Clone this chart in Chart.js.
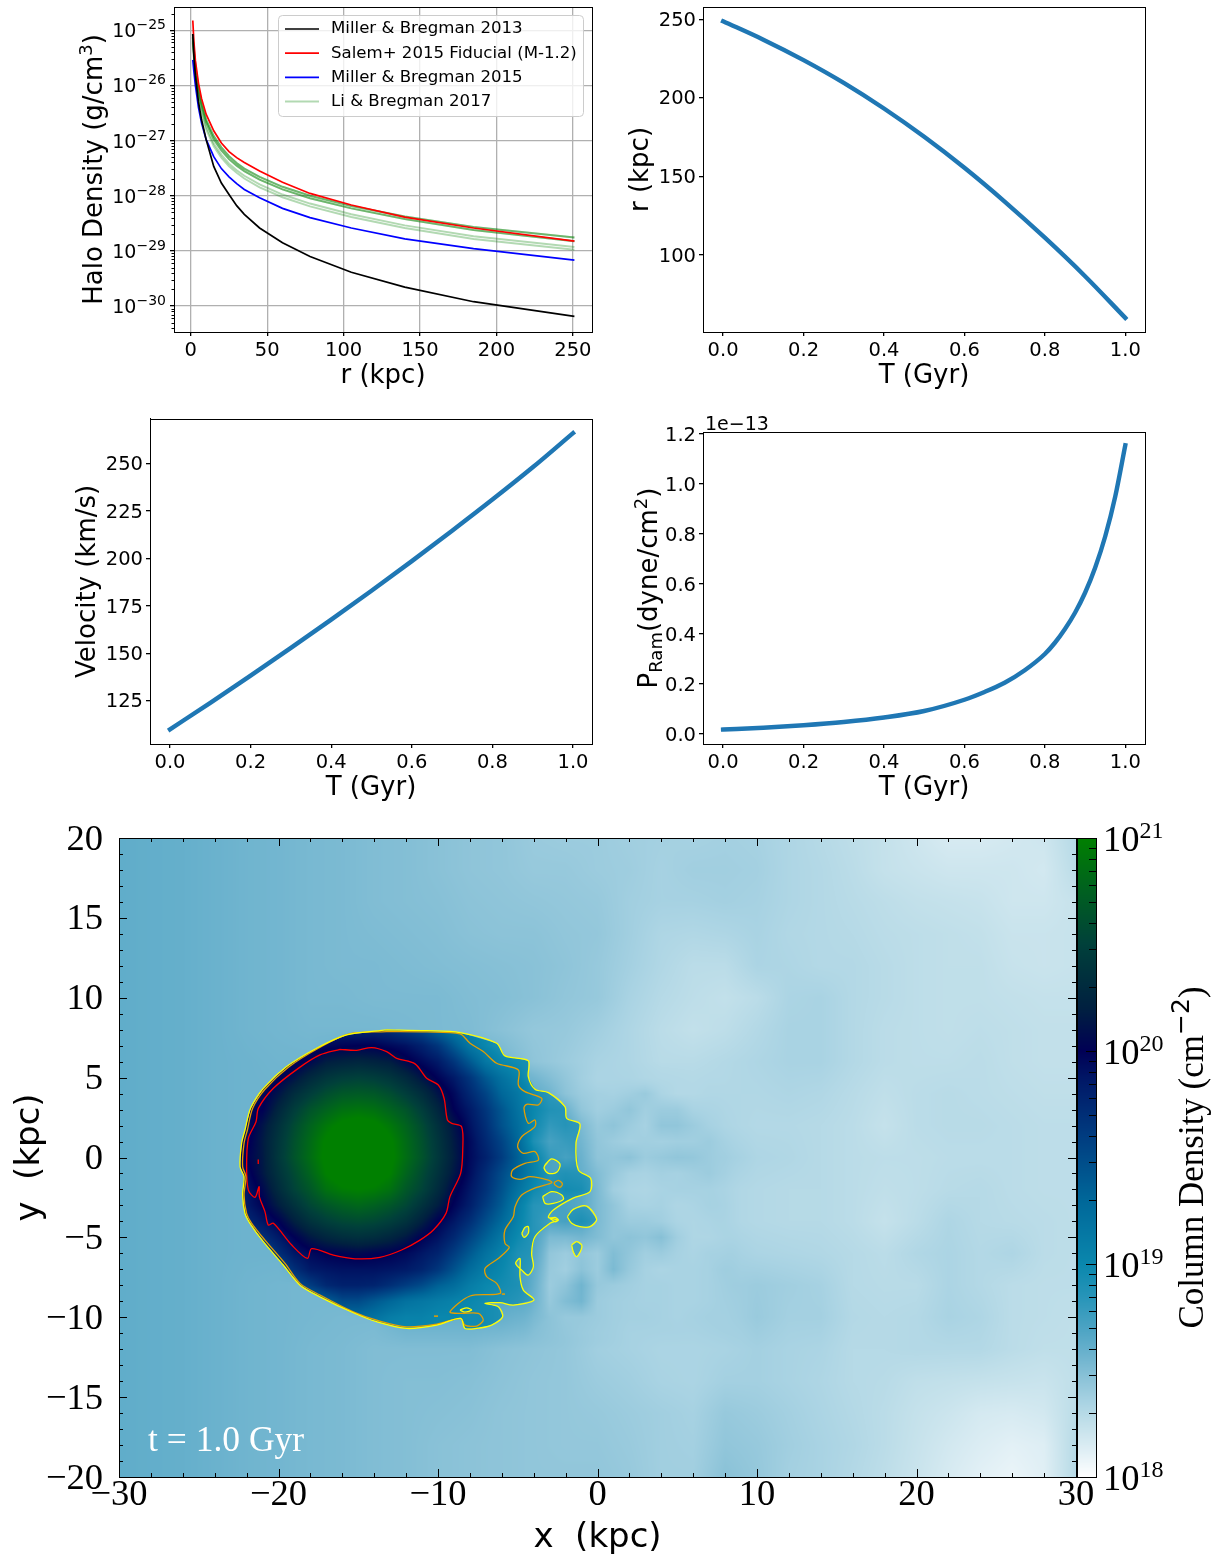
<!DOCTYPE html>
<html>
<head>
<meta charset="utf-8">
<title>Halo profile and column density</title>
<script src="https://cdn.jsdelivr.net/npm/chart.js@4/dist/chart.umd.min.js"></script>
<style>
  html, body { margin: 0; padding: 0; background: #fff; }
  #page { position: relative; width: 1224px; height: 1558px; overflow: hidden; }
  canvas { position: absolute; }
</style>
</head>
<body>
<div id="page"></div>
<script>
// ---- halo density panel
const haloR = [1.3, 2, 3, 5, 7, 10, 15, 20, 25, 30, 35, 45, 60, 78, 105, 140, 185, 251];
const millerBregman2013 = [8.5e-26, 3.5e-26, 1.5e-26, 5e-27, 2.4e-27, 1.05e-27, 3.4e-28, 1.7e-28, 1.05e-28, 6.6e-29, 4.6e-29, 2.6e-29, 1.4e-29, 7.9e-30, 4.1e-30, 2.2e-30, 1.2e-30, 6.5e-31];
const salem2015 = [1.5e-25, 6.3e-26, 2.8e-26, 1.1e-26, 5.8e-27, 3e-27, 1.5e-27, 9e-28, 6.3e-28, 4.9e-28, 4e-28, 2.8e-28, 1.75e-28, 1.1e-28, 6.8e-29, 4.1e-29, 2.6e-29, 1.5e-29];
const millerBregman2015 = [2.9e-26, 1.8e-26, 1e-26, 4e-27, 2.1e-27, 1.05e-27, 5.1e-28, 3.1e-28, 2.2e-28, 1.65e-28, 1.3e-28, 9.2e-29, 5.9e-29, 4e-29, 2.6e-29, 1.65e-29, 1.1e-29, 6.8e-30];
const liBregmanA = [8.5e-26, 4.5e-26, 2.3e-26, 9e-27, 5e-27, 2.4e-27, 1.2e-27, 7.5e-28, 5.2e-28, 3.9e-28, 3.1e-28, 2.2e-28, 1.45e-28, 1e-28, 6.5e-29, 4.2e-29, 2.7e-29, 1.75e-29];
const liBregmanB = [7.5e-26, 4e-26, 2e-26, 8e-27, 4.4e-27, 2.15e-27, 1.05e-27, 6.6e-28, 4.6e-28, 3.5e-28, 2.8e-28, 1.95e-28, 1.3e-28, 9e-29, 5.9e-29, 3.8e-29, 2.4e-29, 1.5e-29];
const liBregmanC = [6.5e-26, 3.4e-26, 1.7e-26, 6.8e-27, 3.7e-27, 1.8e-27, 8.8e-28, 5.5e-28, 3.8e-28, 2.9e-28, 2.3e-28, 1.6e-28, 1.05e-28, 7.2e-29, 4.6e-29, 2.9e-29, 1.85e-29, 1.18e-29];
const liBregmanD = [6e-26, 3.1e-26, 1.55e-26, 6.2e-27, 3.3e-27, 1.6e-27, 7.9e-28, 4.9e-28, 3.4e-28, 2.6e-28, 2.05e-28, 1.42e-28, 9.4e-29, 6.4e-29, 4.1e-29, 2.6e-29, 1.65e-29, 1.05e-29];
const legendLabels = ['Miller & Bregman 2013', 'Salem+ 2015 Fiducial (M-1.2)', 'Miller & Bregman 2015', 'Li & Bregman 2017'];
const haloXTicks = [0, 50, 100, 150, 200, 250];
const haloYExponents = [-25, -26, -27, -28, -29, -30];

// ---- orbit panels
const orbitT = [0, 0.1, 0.2, 0.3, 0.4, 0.5, 0.6, 0.7, 0.8, 0.9, 1];
const orbitRadius = [248.7, 237, 224, 209.5, 193.2, 175.2, 155.5, 134, 111, 86.5, 60];
const orbitVelocity = [110, 124, 138.3, 152.9, 167.8, 183, 198.6, 214.6, 231, 248, 266];
const ramT = [0, 0.1, 0.2, 0.3, 0.4, 0.5, 0.6, 0.65, 0.7, 0.75, 0.8, 0.825, 0.85, 0.875, 0.9, 0.925, 0.95, 0.975, 1];
const ramPressure = [0.018, 0.025, 0.035, 0.048, 0.066, 0.092, 0.137, 0.168, 0.205, 0.255, 0.32, 0.365, 0.42, 0.485, 0.565, 0.665, 0.79, 0.95, 1.155];
const timeTicks = [0, 0.2, 0.4, 0.6, 0.8, 1];
const radiusTicks = [100, 150, 200, 250];
const velocityTicks = [125, 150, 175, 200, 225, 250];
const pressureTicks = [0, 0.2, 0.4, 0.6, 0.8, 1, 1.2];

// ---- column density map, log10(N). wind field on a 2 kpc grid
const windX = [-30, -28, -26, -24, -22, -20, -18, -16, -14, -12, -10, -8, -6, -4, -2, 0, 2, 4, 6, 8, 10, 12, 14, 16, 18, 20, 22, 24, 26, 28, 30];
const windY = [20, 18, 16, 14, 12, 10, 8, 6, 4, 2, 0, -2, -4, -6, -8, -10, -12, -14, -16, -18, -20];
const windRows = [
  [18.62,18.61,18.60,18.58,18.56,18.55,18.53,18.52,18.50,18.49,18.47,18.45,18.44,18.41,18.40,18.40,18.38,18.37,18.36,18.37,18.36,18.33,18.30,18.27,18.24,18.20,18.16,18.16,18.18,18.20,18.30],
  [18.62,18.61,18.60,18.58,18.56,18.55,18.53,18.52,18.50,18.49,18.47,18.45,18.44,18.42,18.42,18.40,18.39,18.36,18.38,18.38,18.37,18.33,18.31,18.28,18.24,18.22,18.20,18.20,18.20,18.18,18.28],
  [18.62,18.61,18.60,18.58,18.56,18.55,18.53,18.52,18.50,18.49,18.48,18.46,18.45,18.44,18.43,18.42,18.38,18.36,18.36,18.37,18.36,18.33,18.31,18.29,18.27,18.25,18.24,18.23,18.20,18.20,18.23],
  [18.62,18.61,18.60,18.58,18.56,18.55,18.53,18.52,18.51,18.50,18.49,18.47,18.46,18.46,18.44,18.43,18.38,18.33,18.32,18.33,18.35,18.32,18.31,18.30,18.28,18.27,18.26,18.25,18.22,18.22,18.23],
  [18.62,18.61,18.60,18.58,18.56,18.55,18.53,18.52,18.52,18.51,18.50,18.49,18.48,18.47,18.45,18.42,18.37,18.32,18.28,18.28,18.34,18.33,18.31,18.31,18.29,18.27,18.26,18.26,18.23,18.22,18.23],
  [18.62,18.61,18.60,18.58,18.56,18.55,18.53,18.53,18.52,18.52,18.52,18.50,18.49,18.47,18.44,18.42,18.35,18.30,18.27,18.25,18.28,18.34,18.35,18.31,18.29,18.27,18.26,18.26,18.25,18.24,18.24],
  [18.62,18.61,18.60,18.58,18.56,18.55,18.54,18.54,18.54,18.53,18.52,18.51,18.47,18.43,18.42,18.38,18.33,18.28,18.25,18.27,18.31,18.35,18.35,18.31,18.28,18.27,18.26,18.27,18.26,18.25,18.25],
  [18.62,18.61,18.60,18.58,18.57,18.56,18.56,18.60,18.60,18.60,18.60,18.60,18.55,18.45,18.40,18.35,18.33,18.29,18.29,18.31,18.33,18.35,18.35,18.31,18.28,18.27,18.27,18.28,18.26,18.25,18.25],
  [18.62,18.61,18.60,18.58,18.57,18.57,18.60,18.70,18.70,18.70,18.70,18.70,18.70,18.60,18.50,18.33,18.36,18.36,18.33,18.32,18.32,18.33,18.32,18.29,18.26,18.28,18.29,18.28,18.27,18.26,18.26],
  [18.62,18.61,18.60,18.58,18.57,18.57,18.70,18.70,18.70,18.70,18.70,18.70,18.70,18.70,18.65,18.50,18.40,18.38,18.40,18.33,18.31,18.31,18.30,18.28,18.24,18.28,18.29,18.29,18.28,18.27,18.27],
  [18.62,18.61,18.60,18.58,18.57,18.57,18.70,18.70,18.70,18.70,18.70,18.70,18.70,18.70,18.65,18.48,18.35,18.38,18.36,18.38,18.33,18.32,18.30,18.28,18.27,18.27,18.28,18.28,18.28,18.27,18.27],
  [18.62,18.61,18.60,18.58,18.57,18.57,18.70,18.70,18.70,18.70,18.70,18.70,18.70,18.70,18.65,18.50,18.38,18.38,18.33,18.33,18.31,18.30,18.30,18.28,18.26,18.27,18.29,18.30,18.28,18.27,18.27],
  [18.62,18.61,18.60,18.58,18.57,18.57,18.70,18.70,18.70,18.70,18.70,18.70,18.70,18.70,18.65,18.58,18.42,18.45,18.35,18.33,18.31,18.30,18.30,18.28,18.24,18.28,18.33,18.30,18.29,18.28,18.27],
  [18.62,18.61,18.60,18.58,18.57,18.57,18.70,18.70,18.70,18.70,18.70,18.70,18.70,18.70,18.65,18.45,18.50,18.40,18.34,18.37,18.34,18.33,18.32,18.30,18.28,18.32,18.34,18.31,18.33,18.28,18.27],
  [18.62,18.61,18.60,18.58,18.56,18.55,18.54,18.56,18.70,18.70,18.70,18.70,18.70,18.70,18.60,18.42,18.42,18.36,18.34,18.38,18.40,18.38,18.36,18.30,18.29,18.29,18.34,18.31,18.28,18.27,18.27],
  [18.62,18.61,18.60,18.58,18.56,18.55,18.54,18.53,18.53,18.60,18.60,18.60,18.60,18.55,18.50,18.44,18.36,18.36,18.35,18.36,18.41,18.37,18.37,18.31,18.30,18.31,18.35,18.33,18.28,18.27,18.26],
  [18.62,18.61,18.60,18.58,18.56,18.55,18.53,18.52,18.50,18.50,18.50,18.50,18.47,18.45,18.43,18.38,18.36,18.34,18.34,18.35,18.37,18.35,18.34,18.30,18.30,18.31,18.31,18.31,18.28,18.26,18.26],
  [18.62,18.61,18.60,18.58,18.56,18.55,18.53,18.52,18.50,18.49,18.49,18.48,18.46,18.44,18.43,18.40,18.38,18.35,18.34,18.37,18.37,18.35,18.33,18.30,18.29,18.26,18.25,18.24,18.23,18.22,18.26],
  [18.62,18.61,18.60,18.58,18.56,18.55,18.53,18.52,18.50,18.49,18.48,18.47,18.45,18.44,18.43,18.42,18.40,18.38,18.36,18.42,18.40,18.37,18.34,18.31,18.28,18.24,18.21,18.17,18.16,18.18,18.28],
  [18.62,18.61,18.60,18.58,18.56,18.55,18.53,18.52,18.50,18.49,18.47,18.46,18.45,18.44,18.43,18.43,18.41,18.38,18.37,18.44,18.42,18.38,18.35,18.32,18.28,18.23,18.18,18.14,18.11,18.13,18.30],
  [18.62,18.61,18.60,18.58,18.56,18.55,18.53,18.52,18.50,18.49,18.47,18.46,18.45,18.44,18.44,18.44,18.42,18.38,18.38,18.47,18.43,18.37,18.35,18.31,18.27,18.22,18.16,18.11,18.08,18.12,18.30]
];

// wake behind the cloud, 1 kpc grid with the streaks in it
const wakeX = [-5, -4, -3, -2, -1, 0, 1, 2, 3, 4, 5, 6, 7, 8, 9];
const wakeY = [6, 5, 4, 3, 2, 1, 0, -1, -2, -3, -4, -5, -6, -7, -8, -9, -10, -11, -12];
const wakeRows = [
  [18.55,18.50,18.45,18.38,18.36,18.35,18.33,18.32,18.30,18.29,18.29,18.29,18.30,18.31,18.32],
  [18.65,18.58,18.50,18.42,18.36,18.34,18.34,18.33,18.31,18.30,18.30,18.30,18.31,18.31,18.32],
  [18.70,18.62,18.56,18.46,18.40,18.37,18.36,18.38,18.41,18.34,18.31,18.31,18.32,18.32,18.32],
  [18.75,18.70,18.65,18.58,18.44,18.38,18.40,18.44,18.38,18.40,18.40,18.35,18.34,18.33,18.32],
  [18.80,18.75,18.70,18.65,18.52,18.42,18.45,18.40,18.36,18.44,18.44,18.40,18.36,18.34,18.33],
  [18.80,18.75,18.70,18.62,18.55,18.44,18.40,18.37,18.38,18.37,18.38,18.38,18.40,18.37,18.34],
  [18.80,18.75,18.70,18.65,18.58,18.45,18.44,18.46,18.40,18.42,18.44,18.43,18.40,18.38,18.34],
  [18.80,18.75,18.70,18.68,18.60,18.50,18.42,18.36,18.35,18.37,18.36,18.38,18.40,18.38,18.34],
  [18.80,18.75,18.72,18.70,18.65,18.52,18.38,18.34,18.33,18.35,18.36,18.36,18.36,18.36,18.34],
  [18.80,18.75,18.75,18.70,18.65,18.52,18.44,18.36,18.35,18.36,18.33,18.34,18.36,18.37,18.35],
  [18.75,18.70,18.68,18.72,18.68,18.52,18.44,18.40,18.40,18.38,18.34,18.33,18.34,18.36,18.36],
  [18.72,18.68,18.52,18.52,18.55,18.50,18.44,18.46,18.44,18.48,18.38,18.33,18.33,18.34,18.36],
  [18.75,18.62,18.44,18.40,18.44,18.40,18.50,18.44,18.38,18.40,18.36,18.34,18.36,18.36,18.40],
  [18.72,18.55,18.42,18.38,18.46,18.40,18.52,18.42,18.36,18.34,18.35,18.35,18.36,18.40,18.42],
  [18.70,18.50,18.40,18.45,18.56,18.42,18.40,18.38,18.36,18.36,18.35,18.35,18.36,18.38,18.42],
  [18.70,18.52,18.42,18.50,18.55,18.40,18.38,18.37,18.36,18.36,18.35,18.35,18.36,18.38,18.40],
  [18.62,18.50,18.46,18.42,18.42,18.40,18.38,18.37,18.37,18.36,18.35,18.36,18.37,18.38,18.40],
  [18.55,18.47,18.43,18.40,18.38,18.37,18.37,18.36,18.36,18.36,18.36,18.36,18.37,18.38,18.39],
  [18.47,18.44,18.42,18.40,18.38,18.38,18.37,18.36,18.35,18.35,18.35,18.35,18.36,18.37,18.38]
];

// gas cloud itself on a 1 kpc grid, only shown inside the outer yellow contour
const cloudX = [-23, -22, -21, -20, -19, -18, -17, -16, -15, -14, -13, -12, -11, -10, -9, -8, -7, -6, -5, -4, -3, -2, -1, 0];
const cloudY = [8, 7, 6, 5, 4, 3, 2, 1, 0, -1, -2, -3, -4, -5, -6, -7, -8, -9, -10, -11];
const cloudRows = [
  [19.8,19.8,19.8,19.8,19.8,19.8,19.8,19.8,19.75,19.75,19.7,19.6,19.5,19.3,19.15,19.0,18.95,18.9,18.9,18.85,18.85,18.85,18.8,18.8],
  [19.85,19.85,19.85,19.85,19.85,19.9,19.95,19.98,20.0,20.0,19.95,19.9,19.8,19.65,19.4,19.15,19.0,18.9,18.9,18.85,18.85,18.85,18.8,18.8],
  [19.85,19.85,19.85,19.85,19.95,20.05,20.18,20.22,20.25,20.22,20.18,20.05,19.95,19.85,19.65,19.4,19.15,19.0,18.95,18.9,18.85,18.8,18.75,18.7],
  [19.9,19.9,19.85,19.98,20.12,20.28,20.4,20.47,20.5,20.47,20.4,20.28,20.12,19.98,19.85,19.65,19.4,19.2,19.05,18.85,18.8,18.75,18.75,18.7],
  [19.9,19.9,19.95,20.12,20.32,20.47,20.6,20.68,20.7,20.68,20.6,20.47,20.32,20.12,19.95,19.75,19.55,19.3,19.15,18.95,18.82,18.78,18.72,18.7],
  [19.9,19.95,20.0,20.25,20.47,20.65,20.77,20.87,20.9,20.87,20.77,20.65,20.47,20.25,20.0,19.85,19.65,19.42,19.2,19.0,18.88,18.85,18.75,18.7],
  [19.9,19.9,20.12,20.35,20.58,20.77,20.93,21.05,21.1,21.05,20.93,20.77,20.58,20.35,20.12,19.9,19.7,19.45,19.25,18.98,18.8,18.85,18.8,18.7],
  [19.9,19.95,20.16,20.4,20.63,20.83,21.03,21.17,21.2,21.17,21.03,20.83,20.63,20.4,20.16,19.95,19.75,19.55,19.3,18.9,18.72,18.78,18.82,18.72],
  [19.9,20.0,20.15,20.42,20.65,20.85,21.05,21.2,21.25,21.2,21.05,20.85,20.65,20.42,20.18,19.95,19.8,19.6,19.35,19.05,18.8,18.72,18.78,18.72],
  [19.9,19.93,20.14,20.37,20.58,20.78,21.0,21.12,21.15,21.12,21.0,20.78,20.58,20.37,20.14,19.93,19.72,19.5,19.3,19.05,18.85,18.88,18.85,18.78],
  [19.85,19.87,20.05,20.3,20.52,20.68,20.88,20.97,21.0,20.97,20.88,20.68,20.52,20.3,20.05,19.87,19.68,19.45,19.2,18.98,18.85,18.95,18.92,18.75],
  [19.8,19.85,19.98,20.18,20.37,20.55,20.67,20.75,20.8,20.75,20.67,20.55,20.37,20.18,19.98,19.82,19.6,19.38,19.1,18.85,18.82,18.82,18.8,18.75],
  [19.7,19.75,19.87,20.0,20.2,20.37,20.48,20.55,20.58,20.55,20.48,20.37,20.2,20.0,19.87,19.7,19.48,19.28,19.05,18.85,18.75,18.85,18.9,18.8],
  [19.6,19.65,19.7,19.85,20.0,20.15,20.25,20.32,20.35,20.32,20.25,20.15,20.0,19.9,19.75,19.55,19.35,19.15,18.98,18.85,18.8,18.75,18.75,18.7],
  [19.5,19.5,19.5,19.7,19.87,19.95,20.0,20.02,20.05,20.02,20.0,19.95,19.87,19.78,19.6,19.4,19.2,19.05,18.9,18.85,18.75,18.7,18.7,18.7],
  [19.4,19.4,19.4,19.5,19.7,19.85,19.88,19.9,19.9,19.9,19.88,19.85,19.78,19.65,19.45,19.25,19.1,19.0,18.88,18.8,18.7,18.7,18.7,18.7],
  [19.3,19.3,19.3,19.3,19.45,19.6,19.75,19.8,19.8,19.78,19.7,19.6,19.5,19.35,19.25,19.1,19.0,18.95,18.9,18.82,18.75,18.7,18.7,18.7],
  [19.2,19.2,19.2,19.2,19.2,19.2,19.35,19.5,19.5,19.4,19.3,19.2,19.15,19.1,19.05,19.0,18.95,18.9,18.85,18.78,18.7,18.7,18.7,18.7],
  [19.1,19.1,19.1,19.1,19.1,19.1,19.15,19.25,19.25,19.2,19.1,19.05,19.05,19.0,19.0,18.95,18.95,18.9,18.85,18.8,18.75,18.7,18.7,18.7],
  [19.0,19.0,19.0,19.0,19.0,19.0,19.0,19.0,19.0,19.0,19.0,19.0,19.0,19.0,19.0,18.95,18.95,18.9,18.85,18.8,18.75,18.7,18.7,18.7]
];

// colour table of the colorbar
const cmapLevels = [18, 18.12, 18.25, 18.35, 18.46, 18.57, 18.7, 18.85, 19, 19.3, 19.6, 19.85, 20, 20.2, 20.5, 20.75, 21];
const cmapColors = ['#ffffff', '#e0eff5', '#c2e0ea', '#a9d3e3', '#8cc3d8', '#6db3ce', '#4ba3c3', '#2694b8', '#0a87ad', '#006799', '#003c80', '#001a68', '#000055', '#002040', '#00403a', '#006020', '#008000'];

// contours in kpc
const yellowX = [-13.22,-10.71,-8.62,-6.32,-5.80,-4.34,-4.34,-3.92,-3.08,-2.04,-1.93,-1.10,-1.35,-1.20,-0.43,-0.47,-1.56,-2.77,-3.08,-2.46,-2.98,-3.92,-4.13,-4.02,-4.34,-4.75,-5.13,-4.86,-4.86,-4.65,-3.98,-5.28,-6.11,-7.05,-6.22,-5.95,-6.64,-7.58,-8.31,-8.58,-10.08,-11.96,-13.85,-15.31,-17.40,-18.65,-19.70,-20.95,-21.79,-22.10,-22.25,-22.16,-22.41,-22.31,-22.10,-21.75,-20.95,-19.49,-17.61,-15.73,-13.22];
const yellowY = [7.99,7.94,7.82,7.15,6.36,6.06,5.06,4.27,4.06,3.18,2.45,2.10,0.89,-0.78,-1.30,-2.14,-2.56,-3.29,-3.75,-3.91,-4.12,-4.96,-6.00,-6.84,-7.36,-7.05,-6.63,-6.32,-7.46,-8.30,-8.92,-9.24,-9.09,-9.13,-9.34,-9.97,-10.49,-10.70,-10.70,-10.07,-10.49,-10.70,-10.28,-9.72,-8.72,-7.99,-6.73,-5.27,-4.12,-3.50,-2.35,-1.20,-0.57,0.89,1.72,3.08,4.33,5.69,6.84,7.67,7.99];
const orangeX = [-13.22,-10.71,-8.62,-7.99,-7.16,-6.32,-4.96,-4.96,-4.55,-3.50,-3.71,-4.44,-4.61,-4.34,-3.92,-3.92,-4.75,-5.01,-4.65,-3.92,-3.71,-4.55,-5.32,-5.38,-4.86,-4.23,-3.08,-2.87,-3.81,-4.75,-5.17,-5.28,-5.80,-5.80,-5.53,-6.22,-7.05,-6.95,-6.32,-6.11,-7.99,-9.25,-8.62,-7.47,-7.16,-7.58,-8.31,-8.58,-10.08,-11.96,-13.85,-15.31,-17.40,-18.65,-19.59,-20.85,-21.68,-22.0,-22.16,-22.04,-22.25,-22.16,-21.95,-21.62,-20.85,-19.38,-17.50,-15.62,-13.22];
const orangeY = [7.88,7.86,7.74,7.15,6.63,5.90,5.48,4.54,4.12,3.71,3.29,3.33,3.08,2.14,2.35,1.93,1.30,0.68,0.26,0.37,-0.16,-0.37,-0.78,-1.20,-1.37,-1.20,-1.41,-1.58,-1.87,-2.35,-3.08,-3.71,-4.54,-5.38,-5.63,-6.32,-6.94,-7.46,-7.88,-8.51,-8.67,-9.66,-9.76,-9.76,-10.18,-10.55,-10.49,-10.07,-10.43,-10.60,-10.18,-9.66,-8.61,-7.88,-6.63,-5.17,-4.12,-3.50,-2.35,-1.20,-0.57,0.89,1.72,3.08,4.27,5.65,6.84,7.73,7.88];
const redX = [-16.14,-15.10,-14.16,-13.22,-12.59,-11.44,-10.71,-9.98,-9.62,-9.41,-9.14,-8.52,-8.45,-8.58,-9.25,-9.50,-10.29,-11.13,-12.28,-13.64,-15.20,-16.56,-17.92,-18.19,-19.17,-20.32,-20.64,-20.85,-21.20,-21.22,-21.47,-21.89,-22.0,-21.89,-21.41,-21.26,-20.32,-18.76,-17.40,-16.14];
const redY = [6.77,6.71,6.88,6.63,6.21,5.86,4.96,4.54,3.71,2.35,2.14,1.93,0.47,-0.99,-2.45,-3.50,-4.54,-5.17,-5.79,-6.25,-6.34,-6.11,-5.71,-6.32,-5.48,-4.12,-4.23,-3.39,-2.45,-1.83,-2.49,-2.04,-0.57,1.20,2.24,3.08,4.33,5.58,6.42,6.77];
const redSpeckX = [-21.27, -21.27];
const redSpeckY = [-0.12, -0.40];
const orangeIslandX = [-2.73,-2.45,-2.20,-2.35,-2.66,-2.73];
const orangeIslandY = [-1.58,-1.43,-1.66,-1.87,-1.72,-1.58];
const orangeDot1X = [-10.25,-10.0];
const orangeDot1Y = [-9.93,-9.93];
const orangeDot2X = [-6.0,-5.8];
const orangeDot2Y = [-8.55,-8.55];
const islandAX = [-3.29,-2.87,-2.35,-2.56,-3.08,-3.35,-3.29];
const islandAY = [-0.47,-0.09,-0.41,-0.93,-0.99,-0.68,-0.47];
const islandBX = [-3.44,-2.87,-2.24,-2.14,-2.77,-3.29,-3.44];
const islandBY = [-2.45,-2.14,-2.35,-2.62,-2.87,-2.87,-2.45];
const islandCX = [-1.89,-1.52,-0.68,-0.05,-0.47,-1.10,-1.62,-1.89];
const islandCY = [-3.71,-3.25,-3.04,-3.87,-4.33,-4.33,-4.12,-3.71];
const islandDX = [-4.75,-4.55,-4.34,-4.34,-4.61,-4.75];
const islandDY = [-4.75,-4.38,-4.33,-4.75,-5.0,-4.75];
const islandEX = [-1.62,-1.31,-0.99,-1.03,-1.31,-1.52,-1.62];
const islandEY = [-5.48,-5.27,-5.48,-5.79,-6.21,-5.90,-5.48];
const islandFX = [-2.98,-2.66,-2.46,-2.66,-2.98];
const islandFY = [-3.81,-3.75,-3.91,-4.02,-3.81];
const islandGX = [-8.62,-8.2,-7.89,-8.31,-8.62];
const islandGY = [-9.55,-9.41,-9.55,-9.68,-9.55];

const mapXTicks = [-30, -20, -10, 0, 10, 20, 30];
const mapYTicks = [-20, -15, -10, -5, 0, 5, 10, 15, 20];
const colorbarExponents = [18, 19, 20, 21];

// ---- helpers
const SANS = '"DejaVu Sans"';
const SERIF = '"Liberation Serif"';
const page = document.getElementById('page');

function zip(xs, ys) { return xs.map((x, i) => ({ x: x, y: ys[i] })); }

function addCanvas(left, top, width, height) {
  const c = document.createElement('canvas');
  c.width = width; c.height = height;
  c.style.left = left + 'px'; c.style.top = top + 'px';
  c.style.width = width + 'px'; c.style.height = height + 'px';
  page.appendChild(c);
  return c;
}

// text made of runs in different fonts (super/subscripts), centred on cx
function drawRuns(ctx, runs, cx, cy, rot, align) {
  ctx.save();
  ctx.translate(cx, cy);
  ctx.rotate(rot || 0);
  ctx.textAlign = 'left';
  ctx.textBaseline = 'alphabetic';
  let w = 0;
  runs.forEach(r => { ctx.font = r.font; w += ctx.measureText(r.text).width; });
  let x = align === 'right' ? -w : align === 'left' ? 0 : -w / 2;
  runs.forEach(r => {
    ctx.font = r.font;
    ctx.fillStyle = r.color || '#000';
    ctx.fillText(r.text, x, r.dy || 0);
    x += ctx.measureText(r.text).width;
  });
  ctx.restore();
}

function lerpGrid(rows, xs, ys, x, y) {
  const nx = xs.length, ny = ys.length;
  const fx = Math.min(Math.max((x - xs[0]) / (xs[1] - xs[0]), 0), nx - 1.001);
  const fy = Math.min(Math.max((y - ys[0]) / (ys[1] - ys[0]), 0), ny - 1.001);
  const i = Math.floor(fx), j = Math.floor(fy), a = fx - i, b = fy - j;
  return (rows[j][i] * (1 - a) + rows[j][i + 1] * a) * (1 - b) +
         (rows[j + 1][i] * (1 - a) + rows[j + 1][i + 1] * a) * b;
}

// wind grid, with the finer wake grid faded in over it
function windAt(x, y) {
  const v = lerpGrid(windRows, windX, windY, x, y);
  const edge = Math.min(x - wakeX[0], wakeX[wakeX.length - 1] - x, wakeY[0] - y, y - wakeY[wakeY.length - 1]);
  if (edge <= 0) return v;
  const k = Math.min(edge / 2, 1);
  return v * (1 - k) + lerpGrid(wakeRows, wakeX, wakeY, x, y) * k;
}
function cloudAt(x, y) { return lerpGrid(cloudRows, cloudX, cloudY, x, y); }

const cmapRgb = cmapColors.map(h => [parseInt(h.slice(1, 3), 16), parseInt(h.slice(3, 5), 16), parseInt(h.slice(5, 7), 16)]);
function colorFor(v) {
  if (v <= cmapLevels[0]) return cmapRgb[0];
  for (let k = 1; k < cmapLevels.length; k++) {
    if (v <= cmapLevels[k]) {
      const t = (v - cmapLevels[k - 1]) / (cmapLevels[k] - cmapLevels[k - 1]);
      const p = cmapRgb[k - 1], q = cmapRgb[k];
      return [p[0] + (q[0] - p[0]) * t, p[1] + (q[1] - p[1]) * t, p[2] + (q[2] - p[2]) * t];
    }
  }
  return cmapRgb[cmapRgb.length - 1];
}

function renderField(chart, valueAt) {
  const a = chart.chartArea, sx = chart.scales.x, sy = chart.scales.y;
  const w = Math.round(a.right - a.left), h = Math.round(a.bottom - a.top);
  const off = document.createElement('canvas');
  off.width = w; off.height = h;
  const octx = off.getContext('2d');
  const img = octx.createImageData(w, h);
  for (let j = 0; j < h; j++) {
    const yv = sy.getValueForPixel(a.top + j + 0.5);
    for (let i = 0; i < w; i++) {
      const xv = sx.getValueForPixel(a.left + i + 0.5);
      const c = colorFor(valueAt(xv, yv));
      const o = (j * w + i) * 4;
      img.data[o] = c[0]; img.data[o + 1] = c[1]; img.data[o + 2] = c[2]; img.data[o + 3] = 255;
    }
  }
  octx.putImageData(img, 0, 0);
  return off;
}

function frame(chart) {
  const a = chart.chartArea, ctx = chart.ctx;
  ctx.save();
  ctx.strokeStyle = '#000';
  ctx.lineWidth = 1;
  ctx.strokeRect(Math.round(a.left) + 0.5, Math.round(a.top) + 0.5, Math.round(a.right - a.left), Math.round(a.bottom - a.top));
  ctx.restore();
}

// panel layout: canvas rectangle and plot box, page pixels
function panel(cfg) {
  const cv = addCanvas(cfg.canvas[0], cfg.canvas[1], cfg.canvas[2], cfg.canvas[3]);
  const box = cfg.box;
  const leftW = box[0] - cfg.canvas[0];
  const bottomH = cfg.canvas[1] + cfg.canvas[3] - box[3];
  return new Chart(cv, {
    type: 'scatter',
    data: { datasets: cfg.datasets },
    options: {
      responsive: false,
      animation: false,
      devicePixelRatio: 1,
      layout: { padding: { top: box[1] - cfg.canvas[1], right: cfg.canvas[0] + cfg.canvas[2] - box[2], left: 0, bottom: 0 } },
      plugins: { legend: { display: false }, tooltip: { enabled: false } },
      scales: {
        x: Object.assign({
          type: 'linear', min: cfg.xRange[0], max: cfg.xRange[1], bounds: 'data',
          afterBuildTicks: s => { s.ticks = cfg.xTicks.map(v => ({ value: v })); },
          afterFit: s => { s.height = bottomH; },
          border: { color: '#000' },
          grid: { drawOnChartArea: !!cfg.gridLines, color: '#b0b0b0', tickColor: '#000', tickLength: 4, lineWidth: 1.3 },
          ticks: { autoSkip: false, maxRotation: 0, minRotation: 0, padding: 3, color: '#000', font: { family: SANS, size: 19.5 }, callback: cfg.xFormat }
        }, cfg.xExtra || {}),
        y: Object.assign({
          type: cfg.yType || 'linear', min: cfg.yRange[0], max: cfg.yRange[1], bounds: 'data',
          afterBuildTicks: s => { s.ticks = cfg.yTicks.map(v => ({ value: v })); },
          afterFit: s => { s.width = leftW; },
          border: { color: '#000' },
          grid: { drawOnChartArea: !!cfg.gridLines, color: '#b0b0b0', tickColor: '#000', tickLength: 4, lineWidth: 1.3 },
          ticks: { autoSkip: false, padding: 3, labelOffset: 1.5, color: '#000', font: { family: SANS, size: 19.5 }, callback: cfg.yFormat }
        }, cfg.yExtra || {})
      }
    },
    plugins: cfg.plugins || []
  });
}

function lineSet(xs, ys, color, width, extra) {
  return Object.assign({ data: zip(xs, ys), showLine: true, pointRadius: 0, borderColor: color, backgroundColor: color, borderWidth: width, tension: 0 }, extra || {});
}
function contourSet(xs, ys, color) {
  return lineSet(xs, ys, color, 1.3, { tension: 0.3 });
}
function orbitSet(xs, ys) {
  return lineSet(xs, ys, '#1f77b4', 4.4, { cubicInterpolationMode: 'monotone', borderCapStyle: 'square' });
}

const F26 = '26px ' + SANS;
const fix1 = v => v.toFixed(1);
const plain = v => String(v);

// x and y axis titles for the top four panels
function titles(xRuns, yRuns, yBase, xBase) {
  return {
    id: 'titles',
    afterDraw(chart) {
      const a = chart.chartArea, ctx = chart.ctx;
      drawRuns(ctx, xRuns, (a.left + a.right) / 2, xBase);
      drawRuns(ctx, yRuns, yBase, (a.top + a.bottom) / 2, -Math.PI / 2);
      frame(chart);
    }
  };
}

// ---- panel A: halo density. canvas starts above the page so the axis has headroom
const haloLegendColors = ['#000000', '#ff0000', '#0000ff', 'rgba(0,128,0,0.3)'];
const haloPlugin = {
  id: 'haloDecor',
  afterDraw(chart) {
    const ctx = chart.ctx, a = chart.chartArea, sy = chart.scales.y;
    ctx.save();
    ctx.strokeStyle = '#000';
    ctx.lineWidth = 1;
    for (let d = -31; d <= -25; d++) {
      for (let m = 2; m <= 9; m++) {
        const p = sy.getPixelForValue(m * Math.pow(10, d));
        if (p < a.top || p > a.bottom) continue;
        ctx.beginPath(); ctx.moveTo(a.left - 2.5, Math.round(p) + 0.5); ctx.lineTo(a.left, Math.round(p) + 0.5); ctx.stroke();
      }
    }
    ctx.restore();
    haloYExponents.forEach(e => {
      const p = sy.getPixelForValue(Math.pow(10, e));
      drawRuns(ctx, [{ text: '10', font: '19px ' + SANS }, { text: '\u2212' + Math.abs(e), font: '14px ' + SANS, dy: -8 }], a.left - 8, p + 7, 0, 'right');
    });
    // legend box
    ctx.save();
    ctx.translate(0, 30);
    ctx.beginPath();
    ctx.roundRect(278.5, 15.5, 305, 101, 4);
    ctx.fillStyle = 'rgba(255,255,255,0.8)';
    ctx.fill();
    ctx.strokeStyle = '#cccccc';
    ctx.lineWidth = 1;
    ctx.stroke();
    legendLabels.forEach((t, i) => {
      const ly = 29 + i * 24.2;
      ctx.strokeStyle = haloLegendColors[i];
      ctx.lineWidth = i === 3 ? 2 : 1.7;
      ctx.beginPath(); ctx.moveTo(285, ly); ctx.lineTo(319, ly); ctx.stroke();
      ctx.fillStyle = '#000';
      ctx.font = '16.6px ' + SANS;
      ctx.textAlign = 'left';
      ctx.textBaseline = 'middle';
      ctx.fillText(t, 331, ly);
    });
    ctx.restore();
  }
};

panel({
  canvas: [0, -30, 612, 430], box: [174, 7, 592, 332],
  xRange: [-11, 262.5], yRange: [3.39e-31, 2.63e-25], yType: 'logarithmic',
  xTicks: haloXTicks, yTicks: haloYExponents.map(e => Math.pow(10, e)), gridLines: true,
  xFormat: plain, yFormat: () => '',
  datasets: [
    lineSet(haloR, millerBregman2013, '#000000', 1.7),
    lineSet(haloR, salem2015, '#ff0000', 1.7),
    lineSet(haloR, millerBregman2015, '#0000ff', 1.7),
    lineSet(haloR, liBregmanA, 'rgba(0,128,0,0.35)', 2),
    lineSet(haloR, liBregmanA, 'rgba(0,128,0,0.35)', 2),
    lineSet(haloR, liBregmanB, 'rgba(0,128,0,0.35)', 2),
    lineSet(haloR, liBregmanB, 'rgba(0,128,0,0.35)', 2),
    lineSet(haloR, liBregmanC, 'rgba(0,128,0,0.3)', 2),
    lineSet(haloR, liBregmanD, 'rgba(0,128,0,0.3)', 2)
  ],
  plugins: [haloPlugin, titles([{ text: 'r (kpc)', font: F26 }], [{ text: 'Halo Density (g/cm', font: F26 }, { text: '3', font: '18px ' + SANS, dy: -10 }, { text: ')', font: F26 }], 102, 413)]
});

// ---- panel B: radius against time
panel({
  canvas: [612, -30, 612, 430], box: [703, 7, 1145, 332],
  xRange: [-0.05, 1.049], yRange: [51, 257.8],
  xTicks: timeTicks, yTicks: radiusTicks, xFormat: fix1, yFormat: plain,
  datasets: [orbitSet(orbitT, orbitRadius)],
  plugins: [titles([{ text: 'T (Gyr)', font: F26 }], [{ text: 'r (kpc)', font: F26 }], 36, 413)]
});

// ---- panel C: velocity against time
panel({
  canvas: [0, 404, 612, 400], box: [150, 418, 592, 744],
  xRange: [-0.0496, 1.0471], yRange: [102.3, 273.6],
  xTicks: timeTicks, yTicks: velocityTicks, xFormat: fix1, yFormat: plain,
  datasets: [orbitSet(orbitT, orbitVelocity)],
  plugins: [titles([{ text: 'T (Gyr)', font: F26 }], [{ text: 'Velocity (km/s)', font: F26 }], 95, 391)]
});

// ---- panel D: ram pressure against time
const offsetPlugin = {
  id: 'offsetText',
  afterDraw(chart) {
    drawRuns(chart.ctx, [{ text: '1e\u221213', font: '19px ' + SANS }], 93, 26, 0, 'left');
  }
};
panel({
  canvas: [612, 404, 612, 400], box: [703, 432, 1145, 744],
  xRange: [-0.05, 1.049], yRange: [-0.04, 1.208],
  xTicks: timeTicks, yTicks: pressureTicks, xFormat: fix1, yFormat: fix1,
  datasets: [orbitSet(ramT, ramPressure)],
  plugins: [offsetPlugin, titles([{ text: 'T (Gyr)', font: F26 }], [{ text: 'P', font: F26 }, { text: 'Ram', font: '18px ' + SANS, dy: 5 }, { text: '(dyne/cm', font: F26 }, { text: '2', font: '18px ' + SANS, dy: -10 }, { text: ')', font: F26 }], 45, 391)]
});

// ---- bottom map
const mapPlugin = {
  id: 'mapField',
  beforeDatasetsDraw(chart) {
    const ctx = chart.ctx, a = chart.chartArea, sx = chart.scales.x, sy = chart.scales.y;
    ctx.drawImage(renderField(chart, windAt), a.left, a.top);
    const cloud = renderField(chart, cloudAt);
    ctx.save();
    ctx.beginPath();
    [[yellowX, yellowY], [islandAX, islandAY], [islandBX, islandBY], [islandCX, islandCY], [islandDX, islandDY], [islandEX, islandEY]].forEach(p => {
      p[0].forEach((x, i) => {
        const px = sx.getPixelForValue(x), py = sy.getPixelForValue(p[1][i]);
        if (i === 0) ctx.moveTo(px, py); else ctx.lineTo(px, py);
      });
      ctx.closePath();
    });
    ctx.clip('evenodd');
    ctx.drawImage(cloud, a.left, a.top);
    ctx.restore();
  },
  afterDraw(chart) {
    const ctx = chart.ctx, a = chart.chartArea, sx = chart.scales.x, sy = chart.scales.y;
    ctx.save();
    ctx.strokeStyle = '#000';
    ctx.lineWidth = 1;
    for (let v = -30; v <= 30; v += 2) {
      const len = v % 10 === 0 ? 8 : 4, p = Math.round(sx.getPixelForValue(v)) + 0.5;
      ctx.beginPath();
      ctx.moveTo(p, a.bottom); ctx.lineTo(p, a.bottom - len);
      ctx.moveTo(p, a.top); ctx.lineTo(p, a.top + len);
      ctx.stroke();
    }
    for (let v = -20; v <= 20; v += 1) {
      const len = v % 5 === 0 ? 8 : 4, p = Math.round(sy.getPixelForValue(v)) + 0.5;
      ctx.beginPath();
      ctx.moveTo(a.left, p); ctx.lineTo(a.left + len, p);
      ctx.moveTo(a.right, p); ctx.lineTo(a.right - len, p);
      ctx.stroke();
    }
    ctx.restore();
    frame(chart);
    drawRuns(ctx, [{ text: 't = 1.0 Gyr', font: '35.5px ' + SERIF, color: '#ffffff' }], 148, 651, 0, 'left');
    drawRuns(ctx, [{ text: 'x  (kpc)', font: '34px ' + SANS }], (a.left + a.right) / 2, 747);
    drawRuns(ctx, [{ text: 'y  (kpc)', font: '34px ' + SANS }], 39, (a.top + a.bottom) / 2, -Math.PI / 2);
  }
};

const minusLabel = v => (v < 0 ? '\u2212' + Math.abs(v) : String(v));
panel({
  canvas: [0, 800, 1224, 758], box: [119, 838, 1076, 1477],
  xRange: [-30, 30], yRange: [-20, 20],
  xTicks: mapXTicks, yTicks: mapYTicks, xFormat: minusLabel, yFormat: minusLabel,
  xExtra: { grid: { display: false }, ticks: { autoSkip: false, maxRotation: 0, minRotation: 0, padding: -11, color: '#000', font: { family: SERIF, size: 36.5 }, callback: minusLabel } },
  yExtra: { grid: { display: false }, ticks: { autoSkip: false, padding: 8, labelOffset: 2, color: '#000', font: { family: SERIF, size: 36.5 }, callback: minusLabel } },
  datasets: [
    contourSet(yellowX, yellowY, '#ffff00'),
    contourSet(orangeX, orangeY, '#e69f00'),
    contourSet(redX, redY, '#ff0000'),
    contourSet(redSpeckX, redSpeckY, '#ff0000'),
    contourSet(orangeIslandX, orangeIslandY, '#e69f00'),
    lineSet(orangeDot1X, orangeDot1Y, '#e69f00', 1.5),
    lineSet(orangeDot2X, orangeDot2Y, '#e69f00', 1.5),
    contourSet(islandAX, islandAY, '#ffff00'),
    contourSet(islandBX, islandBY, '#ffff00'),
    contourSet(islandCX, islandCY, '#ffff00'),
    contourSet(islandDX, islandDY, '#ffff00'),
    contourSet(islandEX, islandEY, '#ffff00'),
    contourSet(islandFX, islandFY, '#ffff00'),
    contourSet(islandGX, islandGY, '#ffff00')
  ],
  plugins: [mapPlugin]
});

// ---- colorbar, its own small chart with a log axis
const colorbarPlugin = {
  id: 'colorbarStrip',
  beforeDatasetsDraw(chart) {
    const ctx = chart.ctx, a = chart.chartArea, sy = chart.scales.y;
    for (let p = Math.round(a.top); p < a.bottom; p++) {
      const c = colorFor(Math.log10(sy.getValueForPixel(p + 0.5)));
      ctx.fillStyle = 'rgb(' + c.map(Math.round).join(',') + ')';
      ctx.fillRect(a.left, p, a.right - a.left, 1);
    }
  },
  afterDraw(chart) {
    const ctx = chart.ctx, a = chart.chartArea, sy = chart.scales.y;
    ctx.save();
    ctx.strokeStyle = '#000';
    ctx.lineWidth = 1;
    for (let d = 18; d < 21; d++) {
      for (let m = 1; m <= 9; m++) {
        const p = Math.round(sy.getPixelForValue(m * Math.pow(10, d))) + 0.5;
        ctx.beginPath(); ctx.moveTo(a.right, p); ctx.lineTo(a.right - (m === 1 ? 10 : 7), p); ctx.stroke();
      }
    }
    ctx.restore();
    frame(chart);
    colorbarExponents.forEach(e => {
      const p = sy.getPixelForValue(Math.pow(10, e));
      drawRuns(ctx, [{ text: '10', font: '36.5px ' + SERIF }, { text: String(e), font: '24px ' + SERIF, dy: -13 }], a.right + 7, p + 13, 0, 'left');
    });
    drawRuns(ctx, [{ text: 'Column Density (cm', font: '35px ' + SERIF }, { text: '\u22122', font: '25px ' + SANS, dy: -14 }, { text: ')', font: '35px ' + SERIF }], 143, (a.top + a.bottom) / 2, -Math.PI / 2);
  }
};
new Chart(addCanvas(1060, 800, 164, 740), {
  type: 'scatter',
  data: { datasets: [{ data: [] }] },
  options: {
    responsive: false,
    animation: false,
    devicePixelRatio: 1,
    layout: { padding: { top: 38, bottom: 63, left: 17, right: 0 } },
    plugins: { legend: { display: false }, tooltip: { enabled: false } },
    scales: {
      x: { display: false, min: 0, max: 1 },
      y: {
        type: 'logarithmic', position: 'right', min: 1e18, max: 1e21, bounds: 'data',
        afterFit: s => { s.width = 128; },
        grid: { display: false },
        border: { display: false },
        ticks: { display: false }
      }
    }
  },
  plugins: [colorbarPlugin]
});
</script>
</body>
</html>
